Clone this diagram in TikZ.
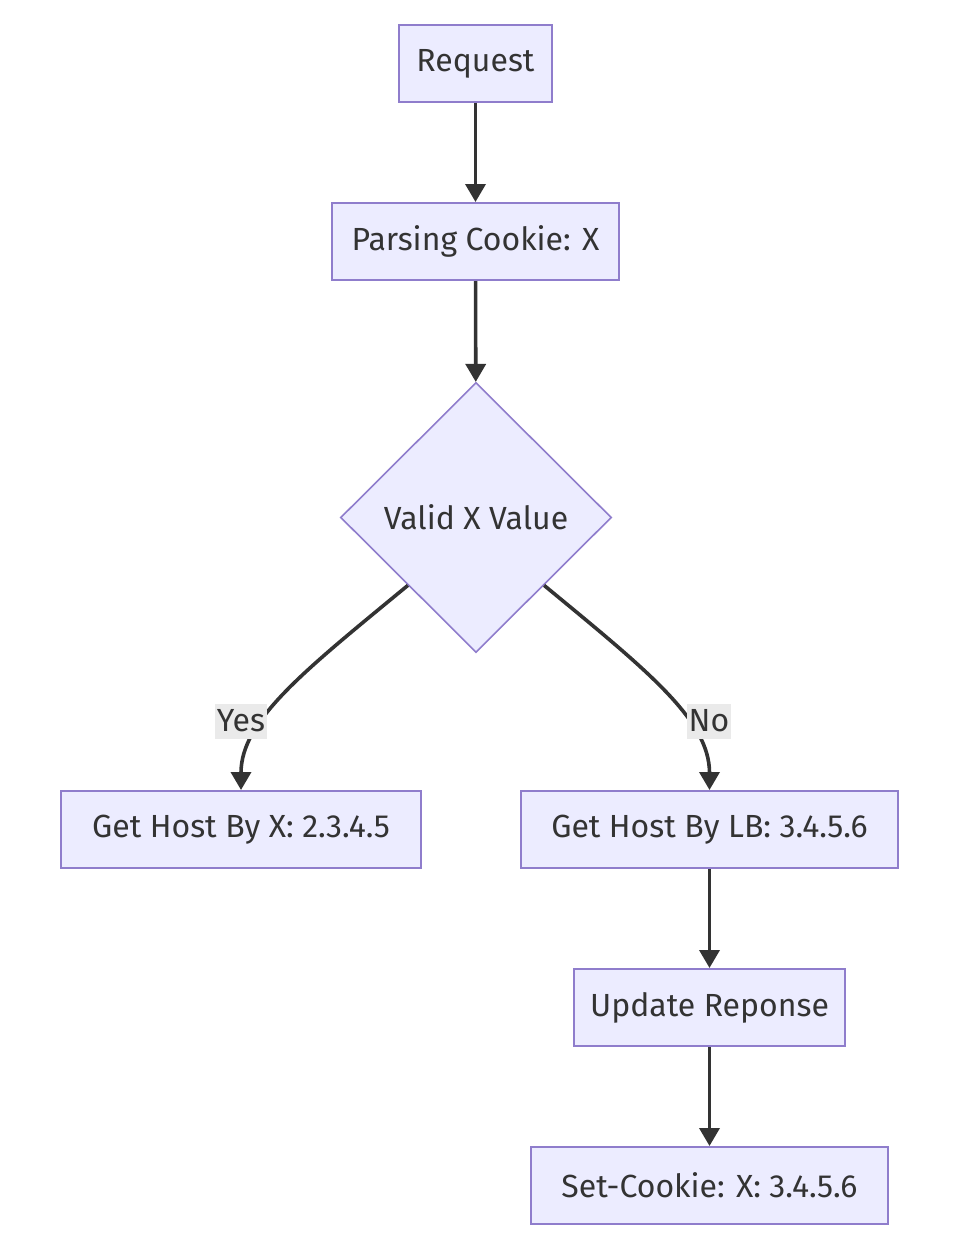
\documentclass[tikz,border=0pt]{standalone}
\usepackage{fontspec}
\setmainfont{Fira Sans}
\usepackage{xcolor}
\usetikzlibrary{arrows.meta,shapes.geometric}
\definecolor{boxfill}{HTML}{ECECFF}
\definecolor{boxline}{HTML}{8F7DCC}
\definecolor{ink}{HTML}{333333}
\definecolor{labelbg}{HTML}{EAEAEA}

\begin{document}
\begin{tikzpicture}[x=0.5pt,y=-0.5pt,
  box/.style={draw=boxline,fill=boxfill,line width=1pt,minimum height=38.5pt,
    inner sep=0pt,text=ink,font=\fontsize{16}{19}\selectfont},
  decision/.style={box,diamond,aspect=1,line width=0.8pt,minimum width=135.5pt,minimum height=135pt},
  edge/.style={ink,line width=1.8pt,-{Triangle[width=10pt,length=9pt]}},
  elabel/.style={fill=labelbg,text=ink,inner sep=1pt,minimum height=17.5pt,
    font=\fontsize{16}{19}\selectfont}]
  \useasboundingbox (0,0) rectangle (974,1252);
  % nodes
  \node[box,minimum width=76.5pt]  (request) at (475.5,63.5)   {Request};
  \node[box,minimum width=143.5pt] (parse)   at (475.5,241.5)  {Parsing Cookie: X};
  \node[decision]                  (valid)   at (476,517.5)    {Valid X Value};
  \node[box,minimum width=180pt]   (hostx)   at (241,829.5)    {Get Host By X: 2.3.4.5};
  \node[box,minimum width=188.5pt] (hostlb)  at (709.5,829.5)  {Get Host By LB: 3.4.5.6};
  \node[box,minimum width=135.5pt] (update)  at (709.5,1007.5) {Update Reponse};
  \node[box,minimum width=178.5pt] (setck)   at (709.5,1185.5) {Set-Cookie: X: 3.4.5.6};
  % edges
  \draw[edge] (request) -- (parse);
  \draw[edge] (parse) -- (valid);
  \draw[edge] (valid.south west) .. controls +(-103,85) and +(0,-70) .. (hostx.north);
  \draw[edge] (valid.south east) .. controls +(103,85) and +(0,-70) .. (hostlb.north);
  \draw[edge] (hostlb) -- (update);
  \draw[edge] (update) -- (setck);
  \node[elabel] (yes) at (241,721) {Yes};
  \node[elabel] (no)  at (709,721) {No};
\end{tikzpicture}
\end{document}
